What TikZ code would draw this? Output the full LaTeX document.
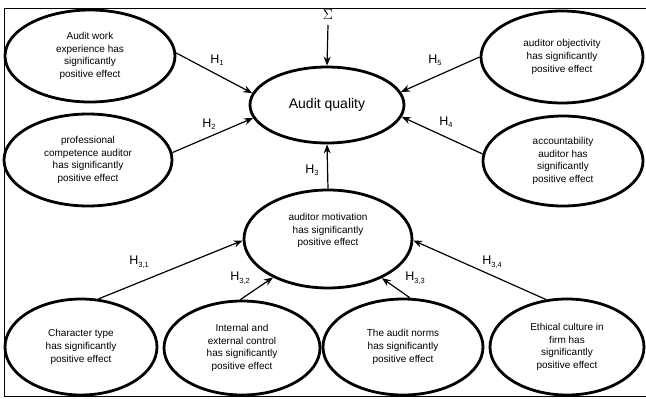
\documentclass[tikz,border=0pt]{standalone}
\usepackage{fontspec}
\setmainfont{Liberation Sans}
\usetikzlibrary{shapes.geometric,arrows.meta}
\newcommand{\hsub}[1]{H\raisebox{-2.5pt}{\fontsize{7.5}{8}\selectfont #1}}
\tikzset{
  oval/.style={ellipse, draw, line width=2.8pt, inner sep=0pt, align=center,
    font=\fontsize{10}{12.7}\selectfont},
  arr/.style={line width=1.2pt, -{Stealth[length=9pt,width=7pt]}},
  hlab/.style={font=\fontsize{12.5}{13}\selectfont, inner sep=0pt},
}
\begin{document}
\begin{tikzpicture}[x=1pt,y=-1pt]
\useasboundingbox (0,0) rectangle (646,399);
\draw[line width=1pt] (646,8) -- (4,8) -- (4,396) -- (646,396);

\node[oval, minimum width=170pt, minimum height=92pt] (e1) at (90,56) {Audit work\\experience has\\significantly\\positive effect};
\node[oval, minimum width=168pt, minimum height=92pt] (e2) at (88,160) {professional\\competence auditor\\has significantly\\positive effect};
\node[oval, minimum width=154pt, minimum height=76pt, font=\fontsize{14}{15}\selectfont] (aq) at (327,105) {Audit quality};
\node[oval, minimum width=162pt, minimum height=92pt] (e4) at (562,57) {auditor objectivity\\has significantly\\positive effect};
\node[oval, minimum width=160pt, minimum height=90pt] (e5) at (563,161) {accountability\\auditor has\\significantly\\positive effect};
\node[oval, minimum width=168pt, minimum height=98pt] (mot) at (328,239) {auditor motivation\\has significantly\\positive effect\\[6pt]};
\node[oval, minimum width=152pt, minimum height=96pt] (e7) at (81,347) {Character type\\has significantly\\positive effect};
\node[oval, minimum width=156pt, minimum height=94pt] (e8) at (242,348) {Internal and\\external control\\has significantly\\positive effect};
\node[oval, minimum width=160pt, minimum height=96pt] (e9) at (403,347) {The audit norms\\has significantly\\positive effect};
\node[oval, minimum width=154pt, minimum height=96pt] (e10) at (567,347) {Ethical culture in\\firm has\\significantly\\positive effect};

\node[font=\fontsize{15}{16}\selectfont, inner sep=0pt] (sig) at (328,15) {$\Sigma$};
\coordinate (sigs) at (328,25);

\draw[arr] (sigs) -- (aq.north);
\draw[arr] (e1.2) -- (aq.171);
\draw[arr] (e2.5) -- (aq.190);
\draw[arr] (e4.180) -- (aq.10);
\draw[arr] (e5.175) -- (aq.351);
\draw[arr] (mot.north) -- (aq.south);
\draw[arr] (e7.70) -- (mot.181);
\draw[arr] (e8.92) -- (mot.215.6);
\draw[arr] (e9.82) -- (mot.324);
\draw[arr] (e10.114.6) -- (mot.359);

\node[hlab] (h1) at (217,60) {\hsub{1}};
\node[hlab] (h2) at (209,124) {\hsub{2}};
\node[hlab] (h5) at (435,60) {\hsub{5}};
\node[hlab] (h4) at (446,122) {\hsub{4}};
\node[hlab] (h3) at (312,170) {\hsub{3}};
\node[hlab] (h31) at (139,262) {\hsub{3,1}};
\node[hlab] (h32) at (240,278) {\hsub{3,2}};
\node[hlab] (h33) at (415,278) {\hsub{3,3}};
\node[hlab] (h34) at (492,262) {\hsub{3,4}};
\end{tikzpicture}
\end{document}
